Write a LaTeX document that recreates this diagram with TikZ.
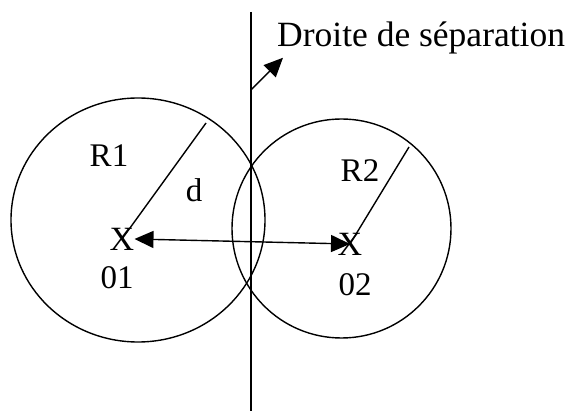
\documentclass[tikz,border=0pt]{standalone}
\usepackage{fontspec}
\setmainfont{Liberation Serif}
\usetikzlibrary{arrows.meta,positioning,calc}
\tikzset{
  lbl/.style ={inner sep=0pt, font=\fontsize{33}{38}\selectfont},
  ctr/.style ={inner sep=0pt, font=\fontsize{34}{38}\selectfont},
  ln/.style  ={line width=1.4pt},
  ar/.style  ={-{Triangle[length=19pt,width=17pt]}, line width=1.4pt},
  dar/.style ={{Triangle[length=19pt,width=17pt]}-{Triangle[length=19pt,width=17pt]}, line width=1.4pt}
}
\begin{document}
\begin{tikzpicture}[x=1pt,y=-1pt]
\useasboundingbox (0,0) rectangle (568,414);
% circles
\draw[ln] (138,220) ellipse [x radius=127, y radius=122];
\draw[ln] (341.5,228.5) circle [radius=109.5];
% separation line
\coordinate (top) at (251,12);
\coordinate (bot) at (251,411);
\coordinate (k) at (251,90);
\draw[ln] (top) -- (bot);
\node[lbl, font=\fontsize{35.5}{40}\selectfont, anchor=base west] (sep) at (277,47) {Droite de séparation};
\draw[ar] (k) -- ($(sep.south west)+(6,3)$);
% centres
\node[ctr] (o1) at (122,239) {X};
\node[ctr] (o2) at (350,244) {X};
\node[lbl] (n1) at (117,278) {01};
\node[lbl] (n2) at (355,285) {02};
\draw[dar] (o1.east) -- (o2.center);
% radii
\coordinate (p1) at (206,123);
\coordinate (p2) at (409,147);
\draw[ln] (o1.center) -- (p1);
\draw[ln] (o2.center) -- (p2);
\node[lbl] (r1) at (109,156) {R1};
\node[lbl] (r2) at (360,171) {R2};
\node[lbl] (d) at (194,190) {d};
\end{tikzpicture}
\end{document}
